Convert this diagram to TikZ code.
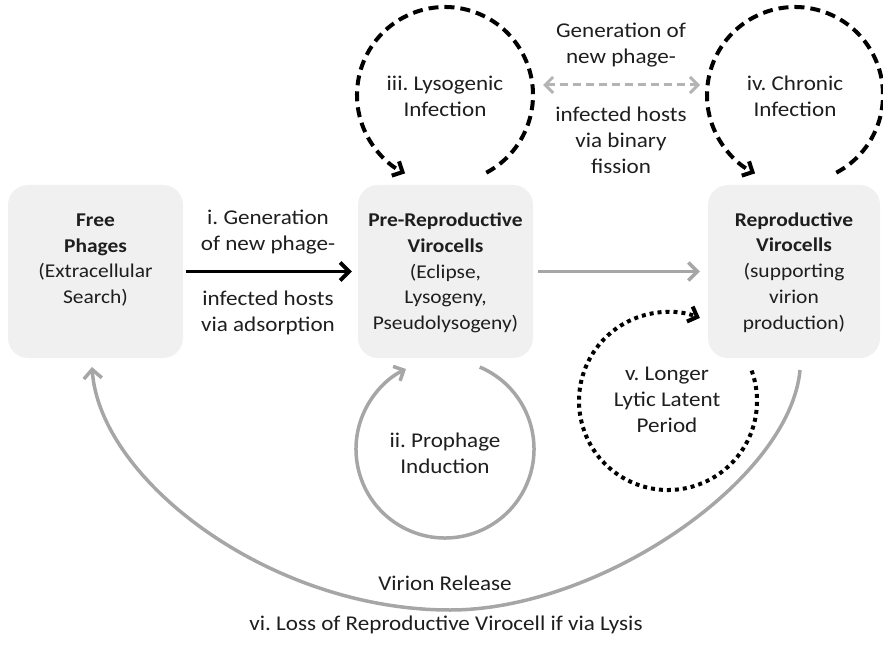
\documentclass[tikz,border=0pt]{standalone}
\usepackage{fontspec}
\setmainfont{Carlito}[FakeStretch=1.1]
\usetikzlibrary{arrows.meta}
\definecolor{boxfill}{HTML}{F0F0F0}
\definecolor{arrgray}{HTML}{A6A6A6}
\definecolor{dashgray}{HTML}{B4B4B4}
\definecolor{txt}{HTML}{1E1E1E}
\frenchspacing
\begin{document}
\begin{tikzpicture}[x=1pt,y=1pt,
  cell/.style={fill=boxfill, rounded corners=20pt, minimum height=173pt, inner sep=0pt},
  lbl/.style={align=center, text=txt, font=\fontsize{21}{26}\selectfont, inner sep=0pt},
  boxlbl/.style={lbl, font=\fontsize{19.5}{25.8}\selectfont},
  blackarr/.style={draw=black, line width=3.8pt, -{Straight Barb[length=9pt,width=18pt]}},
  grayarr/.style={draw=arrgray, line width=3.5pt, -{Straight Barb[length=9pt,width=18pt]}},
  graydash/.style={draw=dashgray, line width=3pt, dash pattern=on 8pt off 5pt, {Straight Barb[length=8pt,width=16pt]}-{Straight Barb[length=8pt,width=16pt]}},
  blackdash/.style={draw=black, line width=4pt, dash pattern=on 10pt off 6pt, -{Straight Barb[length=8pt,width=16pt]}},
  blackdot/.style={draw=black, line width=4pt, dash pattern=on 4pt off 4pt, -{Straight Barb[length=8pt,width=16pt]}},
  grayloop/.style={draw=arrgray, line width=3.5pt, -{Straight Barb[length=8pt,width=16pt]}}
]
\useasboundingbox (0,0) rectangle (883,649);

% boxes
\node[cell, minimum width=175pt] (free) at (95.5,377.5) {};
\node[cell, minimum width=175pt] (pre) at (445.5,377.5) {};
\node[cell, minimum width=172pt] (rep) at (794,377.5) {};

\node[boxlbl] (freet) at (95.5,389) {\textbf{Free}\\\textbf{Phages}\\(Extracellular\\Search)};
\node[boxlbl] (pret) at (445.5,376) {\textbf{Pre-Reproductive}\\\textbf{Virocells}\\(Eclipse,\\Lysogeny,\\Pseudolysogeny)};
\node[boxlbl] (rept) at (794,376.5) {\textbf{Reproductive}\\\textbf{Virocells}\\(supporting\\virion\\production)};

% arrow i
\draw[blackarr, shorten <=3pt, shorten >=6pt] (free.east) -- (pre.west);
\node[lbl] (ia) at (268,417) {i. Generation\\of new phage-};
\node[lbl] (ib) at (268,336) {infected hosts\\via adsorption};

% pre -> rep
\draw[grayarr, shorten <=5pt, shorten >=8pt] (pre.east) -- (rep.west);

% loop centres
\coordinate (ciii) at (445,554);
\coordinate (civ) at (795,554);
\coordinate (cii) at (445,200);
\coordinate (cv) at (668,248);

% iii and iv
\draw[blackdash] ([shift={(-62:88)}]ciii) arc[start angle=-62, end angle=243, radius=88pt];
\draw[blackdash] ([shift={(-62:88)}]civ) arc[start angle=-62, end angle=243, radius=88pt];
\node[lbl] (iiit) at (445,553) {iii. Lysogenic\\Infection};
\node[lbl] (ivt) at (795,553) {iv. Chronic\\Infection};

% binary fission double arrow
\coordinate (bl) at (543,564);
\coordinate (br) at (700,564);
\draw[graydash] (bl) -- (br);
\node[lbl] (ga) at (621,604) {Generation of\\new phage-};
\node[lbl] (gb) at (621,509) {infected hosts\\via binary\\fission};

% ii prophage induction
\draw[grayloop] ([shift={(67:89)}]cii) arc[start angle=67, end angle=-244, radius=89pt];
\node[lbl] (iit) at (445,195.5) {ii. Prophage\\Induction};

% v longer lytic latent period
\draw[blackdot] ([shift={(20:89)}]cv) arc[start angle=20, end angle=-291, radius=89pt];
\node[lbl] (vt) at (667,249) {v. Longer\\Lytic Latent\\Period};

% vi virion release
\coordinate (vs) at (800,279);
\coordinate (vb) at (450,39);
\coordinate (ve) at (92,282);
\draw[grayarr] (vs) .. controls (790,169) and (600,39) .. (vb)
  .. controls (270,39) and (100,169) .. (ve);
\node[lbl] (vr) at (445,66) {Virion Release};
\node[lbl] (vl) at (446,24) {vi. Loss of Reproductive Virocell if via Lysis};
\end{tikzpicture}
\end{document}
